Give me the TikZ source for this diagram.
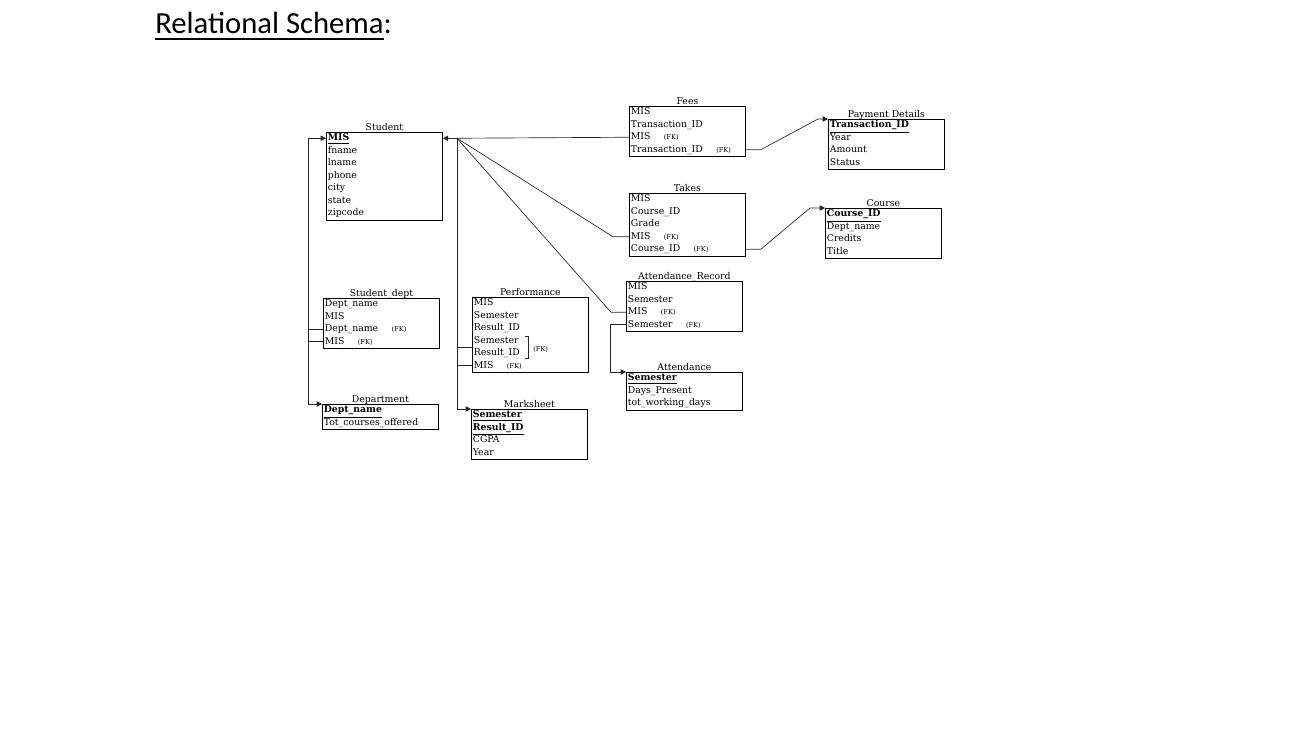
\documentclass[tikz,border=0pt]{standalone}
\usepackage{fontspec}
\setmainfont{DejaVu Serif}
\newfontfamily\headfont{Carlito}
\usetikzlibrary{arrows.meta,calc}
\newcommand{\rw}{\rule[-3pt]{0pt}{9.375pt}}
\newcommand{\fk}{\hspace{10pt}{\fontsize{5}{5}\selectfont(FK)}}
\newcommand{\pk}[1]{\smash{\underline{\textbf{#1}}}}
\newcommand{\ulbox}[1]{\setbox0\hbox{#1}\rlap{\rule[-5pt]{\wd0}{1.5pt}}\box0}
\tikzset{
  tbl/.style={draw, line width=0.6pt, anchor=north west, inner xsep=1.1pt, inner ysep=0pt,
    text width=84.8pt, align=left, font=\fontsize{7}{9.375}\selectfont},
  ttl/.style={anchor=base, inner sep=0pt, font=\fontsize{7}{8}\selectfont},
  fklbl/.style={anchor=west, inner sep=0pt, font=\fontsize{5}{5}\selectfont},
  conn/.style={line width=0.5pt, black!85},
  arr/.style={conn, -{Triangle[length=4pt,width=4pt]}}
}
\begin{document}
\begin{tikzpicture}[x=0.75pt,y=-0.75pt]
\useasboundingbox (0,0) rectangle (1297,746);
\node[anchor=base west, inner sep=0pt, font=\headfont\fontsize{23}{27}\selectfont] (heading) at (155,33) {\ulbox{Relational Schema}:};

% tables
\node[tbl] (student) at (326,132) {\rw\pk{MIS}\\\rw fname\\\rw lname\\\rw phone\\\rw city\\\rw state\\\rw zipcode};
\node[ttl] (student-t) at ($(student.north)+(0,-1.5)$) {Student};

\node[tbl] (fees) at (629,106) {\rw MIS\\\rw Transaction\_ID\\\rw MIS\fk\\\rw Transaction\_ID\fk};
\node[ttl] (fees-t) at ($(fees.north)+(0,-1.5)$) {Fees};

\node[tbl] (pay) at (828,119) {\rw\pk{Transaction\_ID}\\\rw Year\\\rw Amount\\\rw Status};
\node[ttl] (pay-t) at ($(pay.north)+(0,-1.5)$) {Payment Details};

\node[tbl] (takes) at (629,193) {\rw MIS\\\rw Course\_ID\\\rw Grade\\\rw MIS\fk\\\rw Course\_ID\fk};
\node[ttl] (takes-t) at ($(takes.north)+(0,-1.5)$) {Takes};

\node[tbl] (course) at (825,208) {\rw\pk{Course\_ID}\\\rw Dept\_name\\\rw Credits\\\rw Title};
\node[ttl] (course-t) at ($(course.north)+(0,-1.5)$) {Course};

\node[tbl] (attrec) at (626,281) {\rw MIS\\\rw Semester\\\rw MIS\fk\\\rw Semester\fk};
\node[ttl] (attrec-t) at ($(attrec.north)+(0,-1.5)$) {Attendance\_Record};

\node[tbl] (att) at (626,372) {\rw\pk{Semester}\\\rw Days\_Present\\\rw tot\_working\_days};
\node[ttl] (att-t) at ($(att.north)+(0,-1.5)$) {Attendance};

\node[tbl] (sdept) at (323,298) {\rw Dept\_name\\\rw MIS\\\rw Dept\_name\fk\\\rw MIS\fk};
\node[ttl] (sdept-t) at ($(sdept.north)+(0,-1.5)$) {Student\_dept};

\node[tbl] (dept) at (322,404) {\rw\pk{Dept\_name}\\\rw Tot\_courses\_offered};
\node[ttl] (dept-t) at ($(dept.north)+(0,-1.5)$) {Department};

\node[tbl] (perf) at (472,297) {\rw MIS\\\rw Semester\\\rw Result\_ID\\\rw Semester\\\rw Result\_ID\\\rw MIS\fk};
\node[ttl] (perf-t) at ($(perf.north)+(0,-1.5)$) {Performance};
\draw[conn] ($(perf.north west)+(53,39)$) -- ($(perf.north west)+(56,39)$) -- ($(perf.north west)+(56,61)$) -- ($(perf.north west)+(53,61)$);
\node[fklbl] (perf-fk) at ($(perf.north west)+(61,52)$) {(FK)};

\node[tbl] (mark) at (471,409) {\rw\pk{Semester}\\\rw\pk{Result\_ID}\\\rw CGPA\\\rw Year};
\node[ttl] (mark-t) at ($(mark.north)+(0,-1.5)$) {Marksheet};

% connectors
\coordinate (hub) at (457,138.25);
\draw[conn] ($(fees.north west)+(0,31.25)$) -- (hub);
\draw[arr] (hub) -- ($(student.north east)+(0,6.25)$);
\coordinate (k-takes) at ($(takes.north west)+(-16,43.75)$);
\draw[conn] (hub) -- (k-takes) -- ($(takes.north west)+(0,43.75)$);
\coordinate (k-attrec) at ($(attrec.north west)+(-15,31.25)$);
\draw[conn] (hub) -- (k-attrec) -- ($(attrec.north west)+(0,31.25)$);
\coordinate (k-mark) at ($(mark.north west)+(-14,0)$);
\draw[arr] (hub) -- (k-mark) -- (mark.north west);
\draw[conn] ($(perf.north west)+(0,50)$) -- ($(perf.north west)+(-15,50)$) -- ($(perf.north west)+(-15,68.75)$) -- ($(perf.north west)+(0,68.75)$);

\coordinate (k-sd1) at ($(sdept.north west)+(-15,31.25)$);
\coordinate (k-sd2) at ($(sdept.north west)+(-15,43.75)$);
\draw[conn] ($(sdept.north west)+(0,31.25)$) -- (k-sd1) -- (k-sd2) -- ($(sdept.north west)+(0,43.75)$);
\draw[arr] (k-sd2) |- ($(student.north west)+(0,6.25)$);
\draw[arr] (k-sd1) |- (dept.north west);

\coordinate (k-att) at ($(attrec.north west)+(-16,43.75)$);
\draw[arr] ($(attrec.north west)+(0,43.75)$) -- (k-att) |- (att.north west);

\draw[arr] ($(fees.north east)+(0,43.75)$) -- ++(15,0) -- ($(pay.north west)+(-10,0)$) -- (pay.north west);
\draw[arr] ($(takes.north east)+(0,56.25)$) -- ++(15,0) -- ($(course.north west)+(-15,0)$) -- (course.north west);
\end{tikzpicture}
\end{document}
